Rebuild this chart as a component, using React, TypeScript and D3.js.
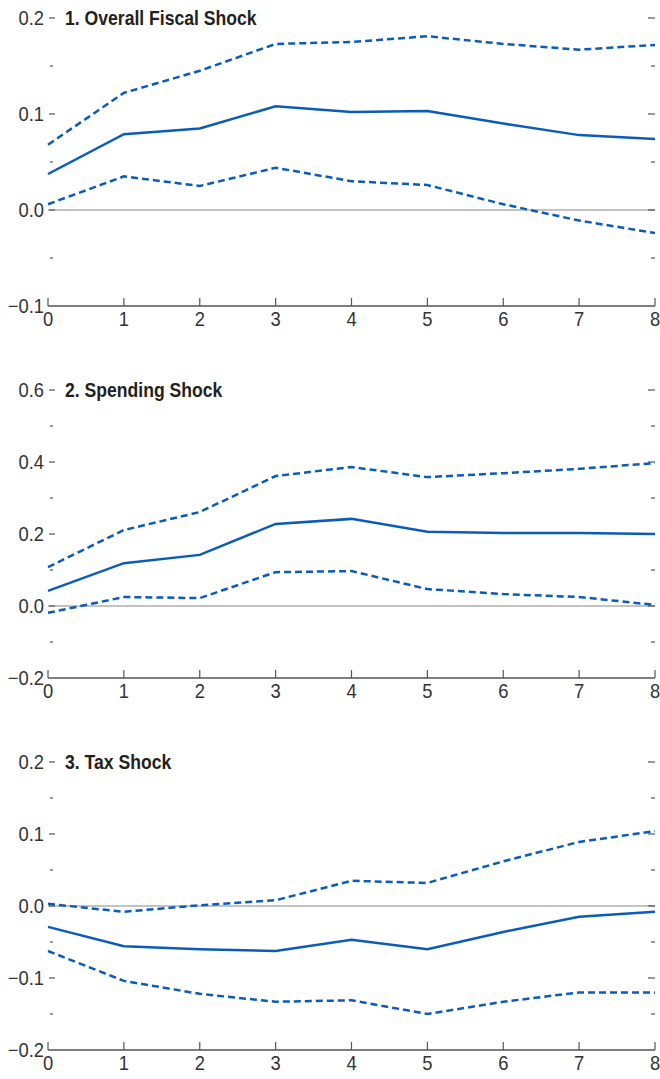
import React, { useEffect, useRef } from 'react';
import * as d3 from 'd3';

const horizons = [0, 1, 2, 3, 4, 5, 6, 7, 8];

const fiscalMid = [0.0375, 0.079, 0.085, 0.108, 0.102, 0.103, 0.09, 0.078, 0.074];
const fiscalUpper = [0.068, 0.122, 0.145, 0.173, 0.175, 0.181, 0.173, 0.167, 0.172];
const fiscalLower = [0.006, 0.035, 0.025, 0.044, 0.03, 0.026, 0.006, -0.011, -0.024];

const spendMid = [0.042, 0.119, 0.142, 0.228, 0.242, 0.206, 0.203, 0.203, 0.2];
const spendUpper = [0.108, 0.211, 0.261, 0.361, 0.386, 0.358, 0.369, 0.381, 0.397];
const spendLower = [-0.019, 0.025, 0.022, 0.094, 0.097, 0.047, 0.033, 0.025, 0.003];

const taxMid = [-0.029, -0.056, -0.06, -0.0625, -0.047, -0.06, -0.036, -0.015, -0.008];
const taxUpper = [0.003, -0.008, 0.001, 0.008, 0.035, 0.032, 0.062, 0.089, 0.104];
const taxLower = [-0.0625, -0.104, -0.122, -0.133, -0.131, -0.15, -0.133, -0.12, -0.12];

const panels = [
  { title: '1. Overall Fiscal Shock', domain: [-0.1, 0.2], major: [-0.1, 0, 0.1, 0.2], minor: [-0.05, 0.05, 0.15], mid: fiscalMid, upper: fiscalUpper, lower: fiscalLower, top: 18, bottom: 306 },
  { title: '2. Spending Shock', domain: [-0.2, 0.6], major: [-0.2, 0, 0.2, 0.4, 0.6], minor: [-0.1, 0.1, 0.3, 0.5], mid: spendMid, upper: spendUpper, lower: spendLower, top: 390, bottom: 678 },
  { title: '3. Tax Shock', domain: [-0.2, 0.2], major: [-0.2, -0.1, 0, 0.1, 0.2], minor: [-0.15, -0.05, 0.05, 0.15], mid: taxMid, upper: taxUpper, lower: taxLower, top: 762, bottom: 1050 },
];

const blue = '#0a5cb8';
const axisColor = '#555';
const font = '"Liberation Sans Narrow", "Arial Narrow", "Liberation Sans", sans-serif';

const App = () => {
  const svgRef = useRef<SVGSVGElement>(null);

  useEffect(() => {
    document.body.style.margin = '0';
    if (!svgRef.current) return;
    const svg = d3.select(svgRef.current);
    svg.selectAll('*').remove();

    const left = 48;
    const right = 655;
    const x = d3.scaleLinear().domain([0, 8]).range([left, right]);

    // condensed-looking text: squeeze horizontally
    const label = (g: any, tx: number, ty: number, txt: string, anchor: string, sx: number, bold = false) => {
      g.append('g')
        .attr('transform', `translate(${tx},${ty}) scale(${sx},1)`)
        .append('text')
        .attr('text-anchor', anchor)
        .attr('font-family', font)
        .attr('font-size', 20)
        .attr('font-weight', bold ? 'bold' : 'normal')
        .attr('fill', bold ? '#231f20' : '#333')
        .text(txt);
    };

    panels.forEach(p => {
      const y = d3.scaleLinear().domain(p.domain).range([p.bottom, p.top]);
      const g = svg.append('g');
      const fmt = (v: number) => d3.format('.1f')(v).replace('-', '–');

      // zero line
      g.append('line')
        .attr('x1', left).attr('x2', right)
        .attr('y1', y(0)).attr('y2', y(0))
        .attr('stroke', '#888').attr('stroke-width', 1.2);

      // y ticks left and right
      p.major.forEach(v => {
        if (v !== p.domain[0]) {
          g.append('line').attr('x1', left + 1).attr('x2', left + 7).attr('y1', y(v)).attr('y2', y(v))
            .attr('stroke', axisColor).attr('stroke-width', 1.2);
          g.append('line').attr('x1', right - 7).attr('x2', right).attr('y1', y(v)).attr('y2', y(v))
            .attr('stroke', axisColor).attr('stroke-width', 1.2);
        }
        label(g, left - 4, y(v) + 7, fmt(v), 'end', 0.92);
      });
      p.minor.forEach(v => {
        g.append('line').attr('x1', left + 2).attr('x2', left + 5).attr('y1', y(v)).attr('y2', y(v))
          .attr('stroke', axisColor).attr('stroke-width', 1.2);
        g.append('line').attr('x1', right - 4).attr('x2', right).attr('y1', y(v)).attr('y2', y(v))
          .attr('stroke', axisColor).attr('stroke-width', 1.2);
      });

      // bottom axis
      g.append('line')
        .attr('x1', left).attr('x2', right)
        .attr('y1', p.bottom).attr('y2', p.bottom)
        .attr('stroke', axisColor).attr('stroke-width', 1.5);
      horizons.forEach(h => {
        g.append('line').attr('x1', x(h)).attr('x2', x(h)).attr('y1', p.bottom).attr('y2', p.bottom - 8)
          .attr('stroke', axisColor).attr('stroke-width', 1.2);
        label(g, x(h), p.bottom + 20, String(h), 'middle', 0.92);
      });

      // title
      label(g, 65, p.top + 7, p.title, 'start', 0.88, true);

      const line = d3.line<number>().x((_, i) => x(horizons[i])).y(d => y(d));
      g.append('path').attr('d', line(p.upper)).attr('fill', 'none')
        .attr('stroke', blue).attr('stroke-width', 2.5).attr('stroke-dasharray', '7,4');
      g.append('path').attr('d', line(p.lower)).attr('fill', 'none')
        .attr('stroke', blue).attr('stroke-width', 2.5).attr('stroke-dasharray', '7,4');
      g.append('path').attr('d', line(p.mid)).attr('fill', 'none')
        .attr('stroke', blue).attr('stroke-width', 2.5);
    });
  }, []);

  return (
    <div>
      <svg ref={svgRef} width={660} height={1079} style={{ display: 'block' }}></svg>
    </div>
  );
};

export default App;
